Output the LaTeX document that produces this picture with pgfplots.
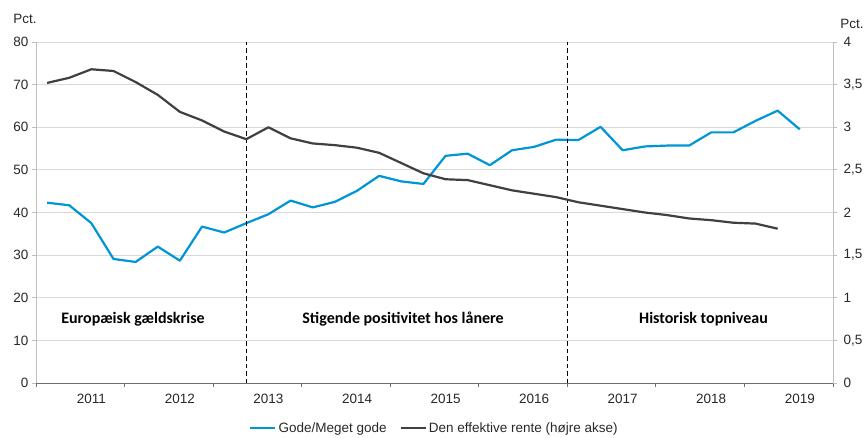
\documentclass[border=0pt]{standalone}
\usepackage{pgfplots}
\pgfplotsset{compat=1.18}
\usepackage{fontspec}
\setmainfont{Liberation Sans}
\newfontfamily\annfont{Carlito}
\definecolor{blueline}{RGB}{0,150,214}
\definecolor{darkline}{RGB}{64,64,64}
\definecolor{gridgray}{RGB}{217,217,217}
\definecolor{axgray}{RGB}{190,190,190}
\definecolor{axdark}{RGB}{110,110,110}
\definecolor{txt}{RGB}{40,40,40}
\begin{document}
\begin{tikzpicture}
\pgfplotsset{
  every axis/.append style={font=\fontsize{13.5}{16}\selectfont},
  /pgf/number format/assume math mode=true,
}
\begin{axis}[
  scale only axis, width=797pt, height=341pt,
  xmin=-0.5, xmax=35.5, ymin=0, ymax=80,
  axis y line*=left, axis x line*=bottom,
  x axis line style={axdark, line width=1pt, -},
  y axis line style={axgray, line width=0.8pt, -},
  xtick={-0.5,3.5,...,35.5}, xticklabels={},
  extra x ticks={2,6,10,14,18,22,26,30,34},
  extra x tick labels={2011,2012,2013,2014,2015,2016,2017,2018,2019},
  extra x tick style={major tick length=0pt, grid=none, xticklabel style={yshift=-8pt}},
  ytick={0,10,...,80},
  ymajorgrids, grid style={gridgray, line width=0.8pt},
  tick align=outside, major tick length=4pt,
  x tick style={axdark, line width=0.8pt},
  y tick style={axgray, line width=0.8pt},
  ticklabel style={text=txt},
  legend style={at={(0.5,-0.132)}, anchor=center, draw=none, fill=none,
    legend columns=2, /tikz/every even column/.append style={column sep=11pt},
    font=\fontsize{13.5}{16}\selectfont, text=txt,
    nodes={inner xsep=2pt}},
  legend image code/.code={\draw[#1] (0pt,0pt) -- (25pt,0pt);},
  clip=false,
]
\addplot[blueline, line width=2.2pt, line join=round] coordinates {
(0,42.3) (1,41.7) (2,37.5) (3,29.1) (4,28.4) (5,32.0) (6,28.7) (7,36.7) (8,35.3) (9,37.5)
(10,39.6) (11,42.8) (12,41.2) (13,42.5) (14,45.1) (15,48.6) (16,47.3) (17,46.7) (18,53.3) (19,53.8)
(20,51.1) (21,54.6) (22,55.4) (23,57.1) (24,57.0) (25,60.1) (26,54.6) (27,55.5) (28,55.7) (29,55.7)
(30,58.8) (31,58.8) (32,61.5) (33,63.9) (34,59.5)
};
\addlegendentry{Gode/Meget gode}
\addlegendimage{darkline, line width=2.2pt}
\addlegendentry{Den effektive rente (højre akse)}
\addplot[black, line width=1.6pt, dash pattern=on 4.5pt off 3pt, forget plot] coordinates {(9,0) (9,80)};
\addplot[black, line width=1.6pt, dash pattern=on 4.5pt off 3pt, forget plot] coordinates {(23.5,0) (23.5,80)};
\node[font=\annfont\bfseries\fontsize{16}{18}\selectfont, text=black] at (axis cs:3.88,15) {Europæisk gældskrise};
\node[font=\annfont\bfseries\fontsize{16}{18}\selectfont, text=black] at (axis cs:16.08,15) {Stigende positivitet hos lånere};
\node[font=\annfont\bfseries\fontsize{16}{18}\selectfont, text=black] at (axis cs:29.65,15) {Historisk topniveau};
\end{axis}
\begin{axis}[
  scale only axis, width=797pt, height=341pt,
  xmin=-0.5, xmax=35.5, ymin=0, ymax=4,
  axis y line*=right, axis x line=none,
  y axis line style={axgray, line width=0.8pt, -},
  ytick={0,0.5,...,4},
  yticklabel style={xshift=3pt, /pgf/number format/.cd, use comma, fixed, precision=1},
  tick align=outside, major tick length=4pt,
  y tick style={axgray, line width=0.8pt},
  ticklabel style={text=txt},
]
\addplot[darkline, line width=2.2pt, line join=round] coordinates {
(0,3.52) (1,3.58) (2,3.68) (3,3.66) (4,3.53) (5,3.38) (6,3.18) (7,3.08) (8,2.95) (9,2.86)
(10,3.00) (11,2.87) (12,2.81) (13,2.79) (14,2.76) (15,2.70) (16,2.58) (17,2.46) (18,2.39) (19,2.38)
(20,2.32) (21,2.26) (22,2.22) (23,2.18) (24,2.12) (25,2.08) (26,2.04) (27,2.00) (28,1.97) (29,1.93)
(30,1.91) (31,1.88) (32,1.87) (33,1.81)
};
\end{axis}
\node[font=\fontsize{13.5}{16}\selectfont, text=txt] at (-11pt,364pt) {Pct.};
\node[font=\fontsize{13.5}{16}\selectfont, text=txt] at (816pt,359pt) {Pct.};
\pgfresetboundingbox
\path[use as bounding box] (-36pt,-54pt) rectangle (829pt,383pt);
\end{tikzpicture}
\end{document}
